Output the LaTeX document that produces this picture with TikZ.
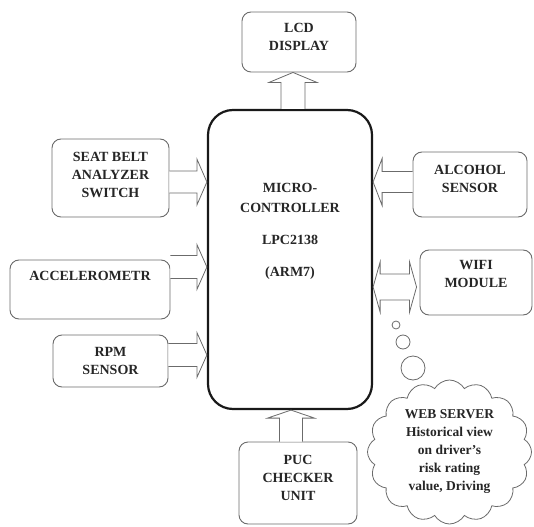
\documentclass[tikz,border=0pt]{standalone}
\usepackage{fontspec}
\setmainfont{Liberation Serif}
\usetikzlibrary{calc,shapes.symbols}
\definecolor{boxline}{gray}{0.42}
\definecolor{txt}{gray}{0.15}
\tikzset{
  box/.style={draw=boxline, line width=0.9pt, rounded corners=9pt, fill=white, inner sep=0pt},
  lbl/.style={text=txt, font=\fontsize{14}{18}\selectfont\bfseries, align=center, inner sep=0pt},
  mcbox/.style={draw=black!90, line width=2.2pt, rounded corners=25pt, fill=white, inner sep=0pt},
  blk/.style={draw=boxline, line width=0.8pt, fill=white, line join=miter},
  bubble/.style={circle, draw=boxline, line width=0.8pt, inner sep=0pt, fill=white},
}
% horizontal block arrow: tail, tip, y centre, shaft half, head half, signed head length
\newcommand\harr[6]{%
  \draw[blk] let \p1=(#1), \p2=(#2), \p3=(0,#3) in
    ({\x1},{\y3+#4pt}) -- ({\x2-(#6pt)},{\y3+#4pt}) -- ({\x2-(#6pt)},{\y3+#5pt}) -- ({\x2},{\y3})
    -- ({\x2-(#6pt)},{\y3-#5pt}) -- ({\x2-(#6pt)},{\y3-#4pt}) -- ({\x1},{\y3-#4pt});}
% vertical (upward) block arrow: tail, tip, x centre, shaft half, head half, head length
\newcommand\varr[6]{%
  \draw[blk] let \p1=(#1), \p2=(#2), \p3=(#3,0) in
    ({\x3-#4pt},{\y1}) -- ({\x3-#4pt},{\y2-#6pt}) -- ({\x3-#5pt},{\y2-#6pt}) -- ({\x3},{\y2})
    -- ({\x3+#5pt},{\y2-#6pt}) -- ({\x3+#4pt},{\y2-#6pt}) -- ({\x3+#4pt},{\y1});}
\begin{document}
\begin{tikzpicture}[x=1pt,y=-1pt]
\useasboundingbox (0,0) rectangle (534,526);

% boxes
\node[box, minimum width=114pt, minimum height=60pt,
      label={[lbl, yshift=5pt]center:LCD\\DISPLAY}] (lcd) at (299,42) {};
\node[box, minimum width=117pt, minimum height=78pt,
      label={[lbl, yshift=3pt]center:SEAT BELT\\ANALYZER\\SWITCH}] (seat) at (110.5,178) {};
\node[box, minimum width=160pt, minimum height=59pt,
      label={[lbl, yshift=13.5pt]center:ACCELEROMETR}] (accel) at (90,289.5) {};
\node[box, minimum width=115pt, minimum height=52pt,
      label={[lbl]center:RPM\\SENSOR}] (rpm) at (110.5,361) {};
\node[box, minimum width=114pt, minimum height=65pt,
      label={[lbl, yshift=6pt]center:ALCOHOL\\SENSOR}] (alc) at (470,184.5) {};
\node[box, minimum width=112pt, minimum height=65pt,
      label={[lbl, yshift=8.5pt]center:WIFI\\MODULE}] (wifi) at (476,282.5) {};
\node[box, minimum width=118pt, minimum height=82pt,
      label={[lbl, yshift=5pt]center:PUC\\CHECKER\\UNIT}] (puc) at (298,483) {};

% microcontroller
\node[mcbox, minimum width=164pt, minimum height=299pt] (mc) at (290,259.5) {};
\node[lbl, font=\fontsize{14}{20}\selectfont\bfseries] (mctext) at (290,231)
  {MICRO-\\CONTROLLER\\[12pt]LPC2138\\[12pt](ARM7)};

% block arrows
\varr{mc.north}{lcd.south}{293}{12}{24}{10}
\harr{seat.east}{mc.west}{182}{11}{23}{10}
\harr{accel.east}{mc.west}{267}{11.5}{22.5}{10}
\harr{rpm.east}{mc.west}{355}{11.5}{22.5}{10}
\harr{alc.west}{mc.east}{182}{10.5}{23.5}{-9}
\varr{puc.north}{mc.south}{291}{11.5}{23.5}{8}
\draw[blk] let \p1=(mc.east), \p2=([xshift=-3pt]wifi.west), \p3=(0,287) in
  ({\x1},{\y3}) -- ({\x1+7pt},{\y3+25pt}) -- ({\x1+7pt},{\y3+13pt}) -- ({\x2-7pt},{\y3+13pt})
  -- ({\x2-7pt},{\y3+25pt}) -- ({\x2},{\y3}) -- ({\x2-7pt},{\y3-25pt}) -- ({\x2-7pt},{\y3-13pt})
  -- ({\x1+7pt},{\y3-13pt}) -- ({\x1+7pt},{\y3-25pt}) -- cycle;

% thought bubbles and cloud
\node[bubble, minimum size=8pt] (b1) at (396,325) {};
\node[bubble, minimum size=14pt] (b2) at (403,342) {};
\node[bubble, minimum size=24pt] (b3) at (413,368) {};
\node[cloud, draw=boxline, line width=0.8pt, fill=white, cloud puffs=16, cloud puff arc=120,
      cloud ignores aspect, minimum width=164pt, minimum height=144pt, inner sep=0pt,
      text=txt, font=\fontsize{13.5}{18}\selectfont\bfseries, align=center] (cloud) at (449.5,452)
  {WEB SERVER\\Historical view\\on driver’s\\risk rating\\value, Driving};
\end{tikzpicture}
\end{document}
